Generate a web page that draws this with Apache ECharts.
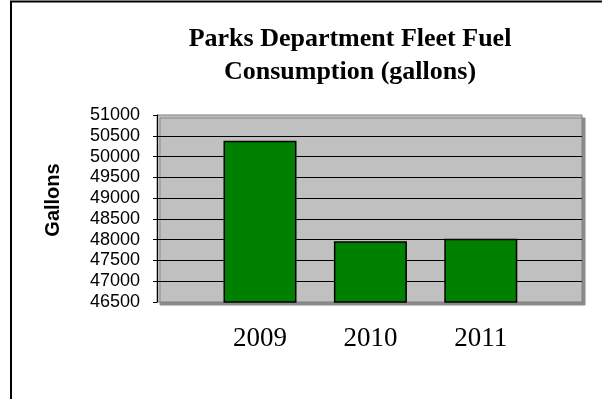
<!DOCTYPE html>
<html>
<head>
<meta charset="utf-8">
<script src="https://cdn.jsdelivr.net/npm/echarts@6/dist/echarts.min.js"></script>
<style>
  html, body { margin: 0; padding: 0; background: #ffffff; }
  #chart { width: 602px; height: 399px; }
</style>
</head>
<body>
<div id="chart"></div>
<script>
// Fleet fuel use by year (gallons)
const years = ['2009', '2010', '2011'];
const gallons = [50380, 47960, 48020];

// Value axis range and step
const yMin = 46500;
const yMax = 51000;
const yStep = 500;

const titleLines = ['Parks Department Fleet Fuel', 'Consumption (gallons)'];
const yAxisTitle = 'Gallons';

const chart = echarts.init(document.getElementById('chart'), null, { renderer: 'canvas' });

chart.setOption({
  backgroundColor: '#ffffff',
  animation: false,
  title: {
    text: titleLines.join('\n'),
    left: 350,
    top: 23,
    padding: 0,
    textAlign: 'center',
    textStyle: {
      fontFamily: '"Liberation Serif", "Times New Roman", serif',
      fontWeight: 'bold',
      fontSize: 26,
      lineHeight: 33,
      color: '#000000'
    }
  },
  grid: [
    {
      // plot area with grey fill and drop shadow
      left: 157, top: 115, right: 20, bottom: 97,
      show: true,
      backgroundColor: '#c0c0c0',
      borderColor: '#808080',
      borderWidth: 1,
      shadowColor: '#8a8a8a',
      shadowOffsetX: 3,
      shadowOffsetY: 3,
      shadowBlur: 0
    },
    {
      // band layout for the three year columns
      left: 204.8, top: 115, width: 331.2, bottom: 97,
      show: false
    }
  ],
  xAxis: [
    { gridIndex: 0, type: 'value', show: false, min: 0, max: 1 },
    {
      gridIndex: 1,
      type: 'category',
      data: years,
      axisLine: { show: false },
      axisTick: { show: false },
      axisLabel: {
        margin: 23,
        fontFamily: '"Liberation Serif", "Times New Roman", serif',
        fontSize: 27,
        lineHeight: 27,
        color: '#000000'
      }
    }
  ],
  yAxis: [
    {
      gridIndex: 0,
      type: 'value',
      min: yMin,
      max: yMax,
      interval: yStep,
      axisLine: { show: true, lineStyle: { color: '#000000', width: 1 } },
      axisTick: { show: true, inside: false, length: 4, lineStyle: { color: '#000000', width: 1 } },
      axisLabel: {
        margin: 17,
        formatter: (v) => String(v),
        fontFamily: '"Liberation Sans", Arial, sans-serif',
        fontSize: 18,
        color: '#000000'
      },
      splitLine: {
        show: true,
        showMinLine: false,
        showMaxLine: false,
        lineStyle: { color: '#000000', width: 1 }
      }
    },
    {
      gridIndex: 1,
      type: 'value',
      min: yMin,
      max: yMax,
      interval: yStep,
      show: false,
      splitLine: { show: false }
    }
  ],
  series: [
    {
      type: 'bar',
      xAxisIndex: 1,
      yAxisIndex: 1,
      data: gallons,
      barWidth: 73,
      itemStyle: {
        color: '#008000',
        borderColor: '#000000',
        borderWidth: 1.5
      }
    }
  ],
  graphic: [
    {
      // chart frame
      type: 'rect',
      silent: true,
      shape: { x: 11, y: 1.5, width: 800, height: 600 },
      style: { fill: 'none', stroke: '#000000', lineWidth: 2 }
    },
    {
      type: 'text',
      x: 53,
      y: 200,
      rotation: Math.PI / 2,
      style: {
        text: yAxisTitle,
        fontFamily: '"Liberation Sans", Arial, sans-serif',
        fontWeight: 'bold',
        fontSize: 20,
        fill: '#000000',
        align: 'center',
        verticalAlign: 'middle'
      }
    }
  ]
});
</script>
</body>
</html>
